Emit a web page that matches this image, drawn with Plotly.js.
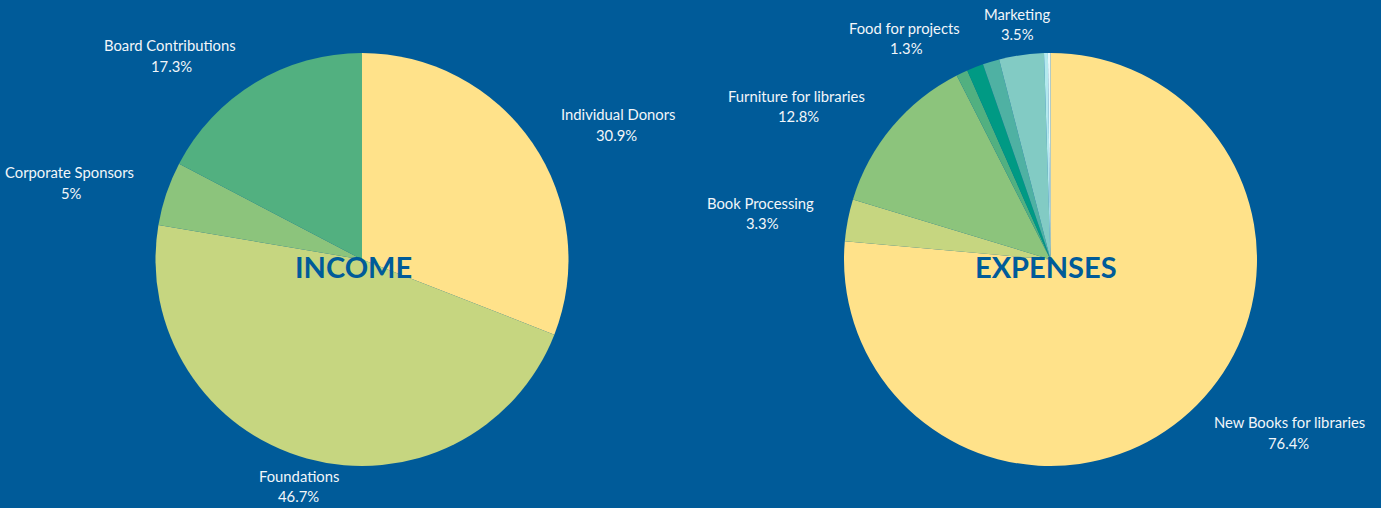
<!DOCTYPE html>
<html><head><meta charset="utf-8">
<script src="https://cdn.plot.ly/plotly-3.0.1.min.js"></script>
<style>html,body{margin:0;padding:0;background:#005b99;} #chart{width:1381px;height:508px;}</style>
</head><body><div id="chart"></div>
<script>
// ---- data ----
const incomeLabels = ["Individual Donors", "Foundations", "Corporate Sponsors", "Board Contributions"];
const incomeValues = [30.9, 46.7, 5, 17.3];
const incomeColors = ["#ffe28a", "#c6d680", "#8cc47c", "#52b080"];
const incomeLabelShown = [true, true, true, true];

const expenseLabels = ["New Books for libraries", "Book Processing", "Furniture for libraries", "Supplies",
                       "Food for projects", "Events", "Marketing", "Office", "Fees"];
const expenseValues = [76.4, 3.3, 12.8, 0.9, 1.3, 1.3, 3.5, 0.3, 0.2];
const expenseColors = ["#ffe28a", "#c6d680", "#8cc47c", "#52b080", "#009a84", "#4fb1a3", "#82cbc4", "#b3e9ee", "#e4f7f9"];
const expenseLabelShown = [true, true, true, false, true, false, true, false, false];

const chartTitles = ["INCOME", "EXPENSES"];

// ---- layout geometry ----
const W = 1381, H = 508;
const M = {l: 0, r: 0, t: 53, b: 42};
const plotH = H - M.t - M.b;          // 413
const R = plotH / 2;                  // pie radius in px
const pieCenters = [362, 1050.5];     // px
const labelDist = 30, labelPad = 2;
const FONT = "Lato, 'PT Sans', sans-serif";
const LABEL_SIZE = 14.8;
const LABEL_COLOR = "#f2f6fa";

function domainFor(cx) { return [(cx - R) / W, (cx + R) / W]; }
const px2x = px => px / W;
const py2y = py => 1 - (py - M.t) / plotH;

const ctx = document.createElement("canvas").getContext("2d");
ctx.font = LABEL_SIZE + "px Lato";
const textW = s => ctx.measureText(s).width;

function labelAnnotations(labels, values, shown, cx) {
  const cy = M.t + R;
  const total = values.reduce((a, b) => a + b, 0);
  let cum = 0;
  const out = [];
  labels.forEach((lab, i) => {
    const mid = (cum + values[i] / 2) / total * 360;
    cum += values[i];
    if (!shown[i]) return;
    const a = (mid - 90) * Math.PI / 180;
    const x = cx + Math.cos(a) * (R + labelDist);
    const y = cy + Math.sin(a) * (R + labelDist) - 1.5;
    const fromVertical = Math.min(mid, 360 - mid, Math.abs(mid - 180));
    let anchor, nameX, pctX;
    const w = textW(lab);
    if (fromVertical < 18) { anchor = "center"; nameX = x; pctX = x; }
    else if (mid < 180) { anchor = "left"; nameX = x + labelPad; pctX = nameX + w / 2; }
    else { anchor = "right"; nameX = x - labelPad; pctX = nameX - w / 2; }
    const font = {family: FONT, size: LABEL_SIZE, color: LABEL_COLOR};
    out.push({xref: "paper", yref: "paper", x: px2x(nameX), y: py2y(y - 10.3), text: lab,
              xanchor: anchor, yanchor: "middle", showarrow: false, font: font});
    out.push({xref: "paper", yref: "paper", x: px2x(pctX), y: py2y(y + 10.3), text: values[i] + "%",
              xanchor: "center", yanchor: "middle", showarrow: false, font: font});
  });
  return out;
}

const traces = [
  {type: "pie", labels: incomeLabels, values: incomeValues, sort: false, direction: "clockwise", rotation: 0,
   textinfo: "none", hoverinfo: "label+percent",
   marker: {colors: incomeColors, line: {width: 0}},
   domain: {x: domainFor(pieCenters[0]), y: [0, 1]}},
  {type: "pie", labels: expenseLabels, values: expenseValues, sort: false, direction: "clockwise", rotation: 0,
   textinfo: "none", hoverinfo: "label+percent",
   marker: {colors: expenseColors, line: {width: 0}},
   domain: {x: domainFor(pieCenters[1]), y: [0, 1]}}
];

const titleCenters = [353, 1046];
const annotations = [
  ...labelAnnotations(incomeLabels, incomeValues, incomeLabelShown, pieCenters[0]),
  ...labelAnnotations(expenseLabels, expenseValues, expenseLabelShown, pieCenters[1]),
  ...chartTitles.map((t, i) => ({xref: "paper", yref: "paper", x: px2x(titleCenters[i]), y: py2y(266.5),
     text: "<b>" + t + "</b>", xanchor: "center", yanchor: "middle", showarrow: false,
     font: {family: FONT, size: 29, color: "#005b99"}}))
];

const layout = {
  width: W, height: H, margin: M, paper_bgcolor: "#005b99", plot_bgcolor: "#005b99",
  showlegend: false, annotations: annotations
};
Plotly.newPlot("chart", traces, layout, {displayModeBar: false, staticPlot: true});
</script>
</body></html>
